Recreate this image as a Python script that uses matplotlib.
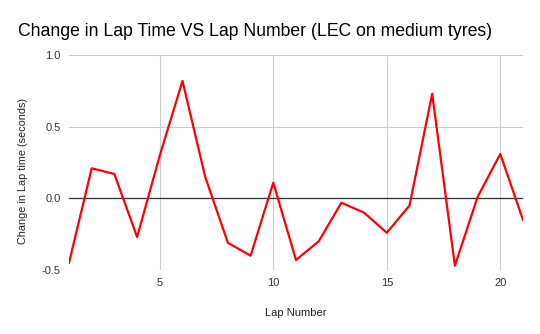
import matplotlib
matplotlib.use("Agg")
import matplotlib.pyplot as plt

plt.rcParams['font.family'] = ['Liberation Sans', 'DejaVu Sans']

laps = list(range(1, 22))
delta = [-0.45, 0.21, 0.17, -0.27, 0.30, 0.82, 0.15, -0.31, -0.40, 0.11,
         -0.43, -0.30, -0.03, -0.10, -0.24, -0.05, 0.73, -0.47, 0.01, 0.31, -0.15]
xticks = [5, 10, 15, 20]
yticks = [-0.5, 0.0, 0.5, 1.0]
ytick_labels = ["-0.5", "0.0", "0.5", "1.0"]

fig = plt.figure(figsize=(5.4, 3.34), dpi=100)
ax = fig.add_axes([0.1278, 0.1916, 0.8407, 0.6434])

ax.plot(laps, delta, color="#ff0000", linewidth=1.6, zorder=3)
ax.axhline(0, color="#333333", linewidth=0.9, zorder=2)

ax.set_xlim(1, 21)
ax.set_ylim(-0.5, 1.0)
ax.set_xticks(xticks)
ax.set_yticks(yticks)
ax.set_yticklabels(ytick_labels)
ax.grid(True, color="#cccccc", linewidth=0.8, zorder=0)
for s in ax.spines.values():
    s.set_visible(False)
ax.tick_params(length=0, labelsize=8, colors="#333333", pad=6)

ax.set_xlabel("Lap Number", fontsize=8, color="#222222", labelpad=14)
ax.set_ylabel("Change in Lap time (seconds)", fontsize=7.8, color="#222222", labelpad=9)
ax.yaxis.set_label_coords(-0.09, 0.46)
fig.text(0.033, 0.905, "Change in Lap Time VS Lap Number (LEC on medium tyres)",
         fontsize=12.7, color="#000000", ha="left", va="center")

fig.savefig("out.png", dpi=100)
